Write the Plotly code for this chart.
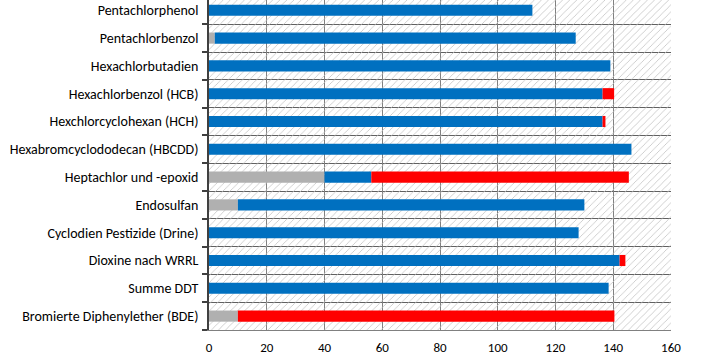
import plotly.graph_objects as go

categories = [
    "Pentachlorphenol",
    "Pentachlorbenzol",
    "Hexachlorbutadien",
    "Hexachlorbenzol (HCB)",
    "Hexchlorcyclohexan (HCH)",
    "Hexabromcyclododecan (HBCDD)",
    "Heptachlor und -epoxid",
    "Endosulfan",
    "Cyclodien Pestizide (Drine)",
    "Dioxine nach WRRL",
    "Summe DDT",
    "Bromierte Diphenylether (BDE)",
]
gray_vals = [0, 2, 0, 0, 0, 0, 40, 10, 0, 0, 0, 10]
blue_vals = [112, 125, 139, 136.3, 136.3, 146.3, 16.2, 120, 128, 142.2, 138.4, 0]
red_vals = [0, 0, 0, 4, 1, 0, 89.2, 0, 0, 2, 0, 130.4]
x_ticks = [0, 20, 40, 60, 80, 100, 120, 140, 160]

X_MAX = 160
n = len(categories)
ypos = list(range(n))
FONT = "Carlito, Calibri, Lato, sans-serif"

fig = go.Figure()

# hatched background for each row
fig.add_trace(go.Bar(
    y=ypos, x=[X_MAX] * n, orientation="h", width=1,
    marker=dict(color="rgba(0,0,0,0)", line=dict(width=0),
                pattern=dict(shape="/", fgcolor="#c4c4c4", bgcolor="rgba(0,0,0,0)",
                             size=5, solidity=0.16, fillmode="replace")),
    hoverinfo="skip", showlegend=False,
))

base_blue = [g for g in gray_vals]
base_red = [g + b for g, b in zip(gray_vals, blue_vals)]

fig.add_trace(go.Bar(y=ypos, x=gray_vals, orientation="h", width=0.4,
                     marker=dict(color="#b0b0b0", line=dict(width=0)), showlegend=False))
fig.add_trace(go.Bar(y=ypos, x=blue_vals, base=base_blue, orientation="h", width=0.4,
                     marker=dict(color="#0070c0", line=dict(width=0)), showlegend=False))
fig.add_trace(go.Bar(y=ypos, x=red_vals, base=base_red, orientation="h", width=0.4,
                     marker=dict(color="#ff0000", line=dict(width=0)), showlegend=False))

row_px = 27.8
plot_h = 330
top = (n - 0.5) - plot_h / row_px

fig.update_layout(
    width=707, height=354,
    margin=dict(l=209, r=36, t=0, b=24, autoexpand=False),
    barmode="overlay",
    plot_bgcolor="white", paper_bgcolor="white",
    font=dict(family=FONT, size=14, color="#000000"),
    xaxis=dict(range=[0, X_MAX], tickvals=x_ticks, showgrid=True, gridcolor="#808080",
               gridwidth=1.3, zeroline=False, showline=True, linecolor="#808080",
               linewidth=1, ticks="", ticklabelstandoff=5, automargin=False,
               tickfont=dict(family=FONT, size=13, color="#000")),
    yaxis=dict(range=[n - 0.5, top], tickvals=ypos, ticktext=categories, showgrid=False,
               zeroline=False, showline=True, linecolor="#404040", linewidth=1.5,
               ticks="", ticklabelstandoff=6, automargin=False,
               minor=dict(tickmode="array", tickvals=[i + 0.5 for i in range(-1, n)],
                          showgrid=True, gridcolor="#606060", gridwidth=1.3,
                          ticks="outside", ticklen=5, tickcolor="#404040", tickwidth=1.5),
               tickfont=dict(family=FONT, size=14, color="#000")),
)

fig.write_html("out.html")
